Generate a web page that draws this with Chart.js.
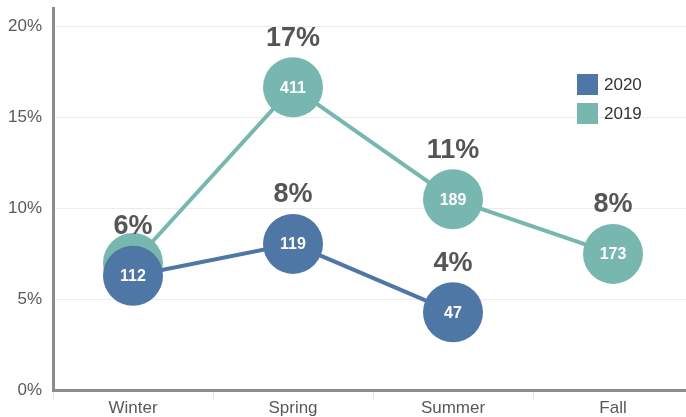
<!DOCTYPE html>
<html>
<head>
<meta charset="utf-8">
<script src="https://cdn.jsdelivr.net/npm/chart.js@4/dist/chart.umd.min.js"></script>
<style>
  html, body { margin: 0; padding: 0; background: #ffffff; overflow: hidden; }
  #wrap { width: 693px; height: 417px; position: relative; }
  canvas { display: block; }
</style>
</head>
<body>
<div id="wrap"><canvas id="c" width="693" height="417"></canvas></div>
<script>
// ---- data ----
const categories = ['Winter', 'Spring', 'Summer', 'Fall'];
const seriesNames = ['2020', '2019'];
const pct2020 = [6.3, 8.05, 4.3, null];
const pct2019 = [7.0, 16.65, 10.5, 7.5];
const count2020 = ['112', '119', '47', null];
const count2019 = [null, '411', '189', '173'];
const pctLabel2020 = ['6%', '8%', '4%', null];
const pctLabel2019 = [null, '17%', '11%', '8%'];
const yTicks = [0, 5, 10, 15, 20];

const blue = '#4e77a6';
const teal = '#77b7b0';

const counts = [count2020, count2019];
const pctLabels = [pctLabel2020, pctLabel2019];

const labelPlugin = {
  id: 'labels',
  afterDatasetsDraw(chart) {
    const ctx = chart.ctx;
    ctx.save();
    ctx.textAlign = 'center';
    ctx.textBaseline = 'middle';
    chart.data.datasets.forEach((ds, di) => {
      const meta = chart.getDatasetMeta(di);
      meta.data.forEach((pt, i) => {
        if (ds.data[i] == null) return;
        if (counts[di][i] != null) {
          ctx.fillStyle = '#ffffff';
          ctx.font = 'bold 16px "Liberation Sans", Arial, sans-serif';
          ctx.fillText(counts[di][i], pt.x, pt.y + 1);
        }
      });
    });
    chart.data.datasets.forEach((ds, di) => {
      const meta = chart.getDatasetMeta(di);
      meta.data.forEach((pt, i) => {
        if (ds.data[i] == null) return;
        if (pctLabels[di][i] != null) {
          ctx.fillStyle = '#555555';
          ctx.font = 'bold 27px "Liberation Sans", Arial, sans-serif';
          ctx.fillText(pctLabels[di][i], pt.x, pt.y - 49);
        }
      });
    });
    ctx.restore();
  }
};

const legendPlugin = {
  id: 'customLegend',
  afterDraw(chart) {
    const ctx = chart.ctx;
    ctx.save();
    chart.data.datasets.forEach((ds, i) => {
      const y = 74 + i * 29;
      ctx.fillStyle = ds.backgroundColor;
      ctx.fillRect(577, y, 21, 21);
      ctx.fillStyle = '#333333';
      ctx.font = '17px "Liberation Sans", Arial, sans-serif';
      ctx.textAlign = 'left';
      ctx.textBaseline = 'middle';
      ctx.fillText(ds.label, 604, y + 11);
    });
    ctx.restore();
  }
};

function zeroPad(scale) {
  scale.paddingTop = 0;
  scale.paddingBottom = 0;
  scale.paddingLeft = 0;
  scale.paddingRight = 0;
}

new Chart(document.getElementById('c'), {
  type: 'line',
  data: {
    labels: categories,
    datasets: [
      {
        label: seriesNames[0],
        data: pct2020,
        borderColor: blue,
        backgroundColor: blue,
        pointBackgroundColor: blue,
        borderWidth: 4,
        pointRadius: 30,
        pointBorderWidth: 0,
        tension: 0,
        spanGaps: false,
        clip: false
      },
      {
        label: seriesNames[1],
        data: pct2019,
        borderColor: teal,
        backgroundColor: teal,
        pointBackgroundColor: teal,
        borderWidth: 4,
        pointRadius: 30,
        pointBorderWidth: 0,
        tension: 0,
        clip: false
      }
    ]
  },
  options: {
    responsive: false,
    animation: false,
    events: [],
    layout: { autoPadding: false, padding: { top: 8, left: 0, right: 0, bottom: 0 } },
    plugins: {
      legend: { display: false },
      tooltip: { enabled: false }
    },
    scales: {
      x: {
        offset: true,
        grid: { display: true, drawOnChartArea: false, color: '#e6e6e6', tickLength: 8, offset: true },
        border: { display: true, color: '#8c8c8c', width: 3 },
        ticks: {
          color: '#595959',
          font: { size: 17, family: '"Liberation Sans", Arial, sans-serif' },
          padding: 0
        },
        afterFit(scale) { scale.height = 26.5; zeroPad(scale); }
      },
      y: {
        min: 0,
        max: 21,
        afterBuildTicks(scale) { scale.ticks = yTicks.map(v => ({ value: v })); },
        grid: { color: '#ececec', drawTicks: false, lineWidth: 1 },
        border: { display: true, color: '#8c8c8c', width: 3 },
        ticks: {
          color: '#595959',
          padding: 11,
          font: { size: 17, family: '"Liberation Sans", Arial, sans-serif' },
          callback: v => v + '%'
        },
        afterFit(scale) { scale.width = 53; zeroPad(scale); }
      }
    }
  },
  plugins: [labelPlugin, legendPlugin]
});
</script>
</body>
</html>
